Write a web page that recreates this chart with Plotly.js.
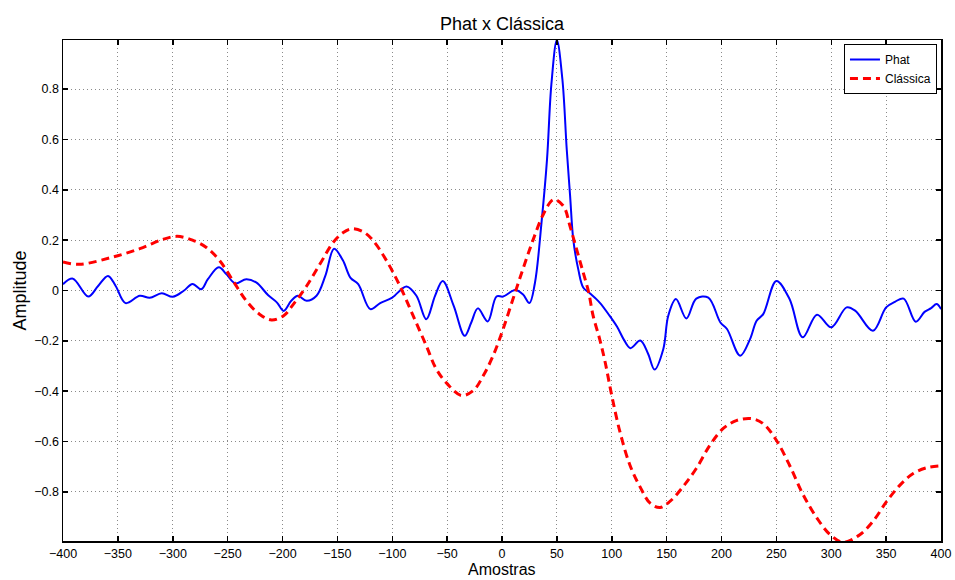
<!DOCTYPE html>
<html>
<head>
<meta charset="utf-8">
<script src="https://cdn.plot.ly/plotly-3.0.1.min.js"></script>
<style>html,body{margin:0;padding:0;background:#fff;}#chart{width:955px;height:580px;}</style>
</head>
<body>
<div id="chart"></div>
<script>
// Phat series
const phatX = [-400,-391,-377,-368,-359,-352,-343,-330,-321,-310,-300,-290,-282,-274,-268,-258,-251,-243,-233,-224,-213,-205,-199,-192,-186,-178,-169,-161,-153,-145,-138,-131,-120,-111,-100,-87,-78,-69,-61,-54,-44,-34,-28,-22,-13,-5,1,12,19,25,30,36,41,45,50,55,59,62,65,69.5,74,80,89,98,105,111,117,126,133,139,147,151.5,158.5,168,177,188,199,205,217,226,232,238,250,262,274,287,300,314,322,338,350,358,366,377,385,391,396,400];
const phatY = [0.025,0.047,-0.024,0.018,0.058,0.018,-0.05,-0.021,-0.029,-0.011,-0.025,-0.001,0.026,0.005,0.045,0.092,0.064,0.028,0.045,0.032,-0.019,-0.048,-0.081,-0.041,-0.021,-0.041,-0.021,0.058,0.166,0.12,0.05,0.025,-0.074,-0.05,-0.028,0.016,-0.021,-0.114,-0.021,0.038,-0.061,-0.18,-0.127,-0.071,-0.123,-0.024,-0.024,0.002,-0.015,-0.05,0.03,0.27,0.52,0.82,0.995,0.84,0.56,0.38,0.2,0.084,0.012,-0.011,-0.048,-0.1,-0.145,-0.195,-0.229,-0.199,-0.25,-0.314,-0.232,-0.1,-0.034,-0.111,-0.032,-0.028,-0.127,-0.153,-0.259,-0.193,-0.12,-0.094,0.038,-0.034,-0.186,-0.096,-0.146,-0.067,-0.081,-0.16,-0.067,-0.045,-0.032,-0.124,-0.085,-0.07,-0.054,-0.074];

// Clássica series
const classX = [-400,-385,-357,-330,-309,-296,-282,-269,-257,-245,-233,-221,-210,-199,-190,-178,-166,-154,-145,-137,-126,-117,-105,-93,-81,-69,-60,-50,-37,-26,-17,-8,1,10,19,28.5,37.6,47,56,62,68,74,79,83,89,94,100,107.5,116.6,125.7,135,144,153,165,177,189.5,201.6,214,227.5,238,250,262,274.5,287,299,311,326,338,350.5,362.6,375,387,399];
const classY = [0.113,0.104,0.13,0.166,0.203,0.215,0.2,0.17,0.117,0.038,-0.041,-0.094,-0.117,-0.1,-0.054,0.018,0.104,0.19,0.229,0.245,0.232,0.196,0.117,0.018,-0.1,-0.219,-0.311,-0.37,-0.417,-0.397,-0.338,-0.258,-0.153,-0.034,0.084,0.203,0.302,0.361,0.335,0.255,0.163,0.071,-0.008,-0.1,-0.193,-0.285,-0.417,-0.562,-0.694,-0.779,-0.845,-0.862,-0.838,-0.779,-0.707,-0.614,-0.548,-0.516,-0.509,-0.529,-0.595,-0.694,-0.812,-0.904,-0.97,-1.0,-0.97,-0.917,-0.838,-0.773,-0.726,-0.704,-0.697];

const seriesNames = ['Phat', 'Clássica'];
const titleText = 'Phat x Clássica';
const xTitle = 'Amostras';
const yTitle = 'Amplitude';

const FONT = '"Liberation Sans", Arial, Helvetica, sans-serif';

const traces = [
  {x: phatX, y: phatY, name: seriesNames[0], type: 'scatter', mode: 'lines',
   line: {color: '#0000ff', width: 2, shape: 'spline', smoothing: 1}},
  {x: classX, y: classY, name: seriesNames[1], type: 'scatter', mode: 'lines',
   line: {color: '#ff0000', width: 3, dash: '8px,5px', shape: 'spline', smoothing: 1}}
];

const axisCommon = {
  showline: true, linecolor: '#000', linewidth: 1.5, mirror: 'ticks',
  ticks: 'inside', ticklen: 5, tickwidth: 1.5, tickcolor: '#000',
  showgrid: true, gridcolor: '#8a8a8a', gridwidth: 1, griddash: '1px,3px',
  zeroline: false, tickfont: {family: FONT, size: 12.5, color: '#000'},
  automargin: false
};

const layout = {
  width: 955, height: 580,
  paper_bgcolor: '#fff', plot_bgcolor: '#fff',
  margin: {l: 63, r: 14, t: 40, b: 39},
  font: {family: FONT, color: '#000'},
  title: {text: titleText, font: {family: FONT, size: 18, color: '#000'}, x: 0.5, xref: 'paper', xanchor: 'center', y: 1, yref: 'paper', yanchor: 'bottom', pad: {b: 10}},
  xaxis: Object.assign({}, axisCommon, {
    range: [-400, 400], tick0: 0, dtick: 50
  }),
  yaxis: Object.assign({}, axisCommon, {
    range: [-0.995, 0.995], tick0: 0, dtick: 0.2
  }),
  annotations: [
    {text: xTitle, xref: 'paper', yref: 'paper', x: 0.5, y: 0, xanchor: 'center', yanchor: 'bottom',
     yshift: -39, showarrow: false, font: {family: FONT, size: 16, color: '#000'}},
    {text: yTitle, xref: 'paper', yref: 'paper', x: 0, y: 0.5, xanchor: 'center', yanchor: 'middle',
     xshift: -44, textangle: -90, showarrow: false, font: {family: FONT, size: 18, color: '#000'}}
  ],
  showlegend: true,
  legend: {
    x: 0.9954, y: 0.992, xanchor: 'right', yanchor: 'top',
    bgcolor: '#fff', bordercolor: '#000', borderwidth: 1,
    font: {family: FONT, size: 12, color: '#000'},
    itemwidth: 30, tracegroupgap: 0
  }
};

Plotly.newPlot('chart', traces, layout, {displayModeBar: false, staticPlot: true});
</script>
</body>
</html>
